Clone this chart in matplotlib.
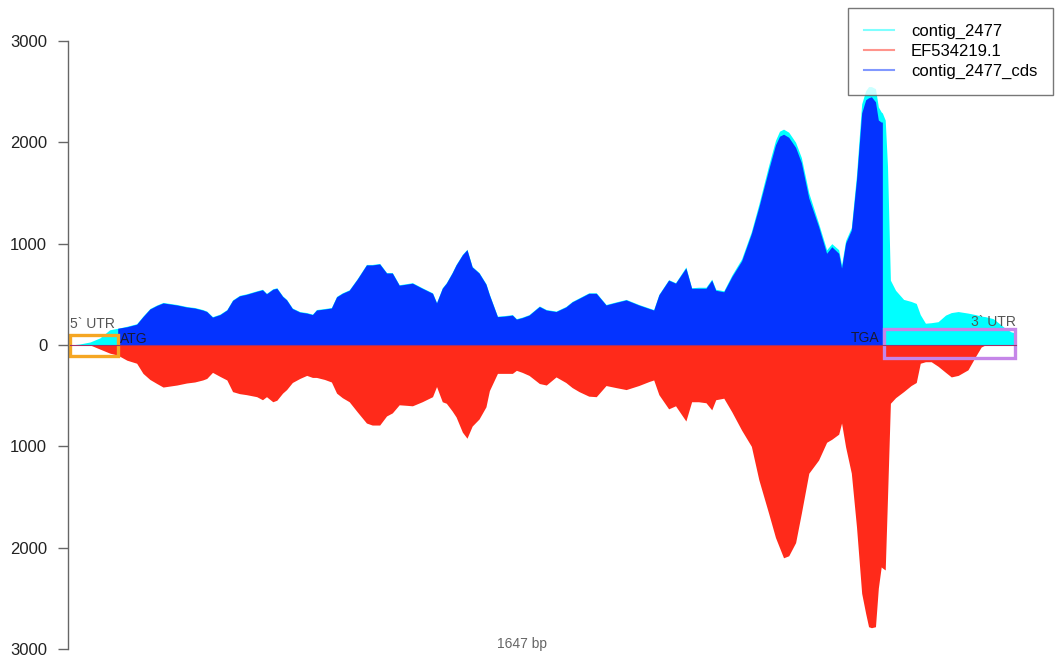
import numpy as np
import matplotlib
matplotlib.use("Agg")
import matplotlib.pyplot as plt
from matplotlib.lines import Line2D
from matplotlib.patches import Rectangle

plt.rcParams['font.family'] = ['Liberation Sans', 'DejaVu Sans']

nan = np.nan

# coverage profiles (bp position, read depth)
pos = [1, 18, 36, 53, 70, 84, 100, 117, 128, 140, 152, 163, 175, 187, 204, 218,
       232, 239, 249, 262, 274, 284, 296, 308, 326, 336, 343, 354, 361, 371, 378,
       388, 401, 413, 423, 430, 444, 456, 465, 475, 487, 501, 517, 527, 540, 552,
       562, 574, 586, 597, 614, 632, 639, 649, 656, 666, 673, 684, 692, 701, 713,
       725, 731, 745, 757, 771, 778, 788, 800, 818, 830, 847, 864, 875, 887, 904,
       917, 934, 951, 969, 991, 1009, 1017, 1026, 1043, 1055, 1073, 1083, 1095,
       1108, 1118, 1125, 1139, 1153, 1170, 1187, 1200, 1217, 1229, 1236, 1243,
       1252, 1264, 1274, 1287, 1304, 1318, 1327, 1339, 1344, 1351, 1361, 1370,
       1379, 1386, 1391, 1396, 1403, 1408, 1413, 1415, 1420, 1424, 1429, 1438,
       1452, 1465, 1474, 1481, 1490, 1500, 1512, 1525, 1535, 1547, 1564, 1577,
       1587, 1594, 1608, 1629, 1639, 1646, 1647]

contig = [0, 10, 30, 70, 150, 165, 185, 210, 285, 360, 395, 420, 410, 400, 380, 370,
          350, 335, 280, 305, 350, 445, 490, 505, 535, 550, 510, 555, 565, 485, 450,
          365, 330, 320, 305, 350, 360, 370, 480, 515, 545, 655, 795, 795, 805, 715,
          715, 595, 605, 615, 565, 515, 420, 565, 615, 715, 795, 895, 945, 775, 715,
          605, 500, 285, 290, 300, 260, 275, 300, 385, 350, 335, 380, 430, 465, 515,
          515, 400, 425, 450, 400, 365, 350, 500, 645, 615, 770, 565, 570,
          570, 650, 550, 535, 690, 850, 1120, 1390, 1770, 2020, 2110, 2130,
          2100, 2000, 1850, 1500, 1200, 940, 1000, 940, 790, 1030, 1160, 1680,
          2380, 2510, 2550, 2550, 2530, 2350, 2300, 2290, 2220, 1760, 640, 540,
          450, 430, 410, 300, 215, 220, 230, 295, 320, 330, 315, 300,
          285, 280, 260, 165, 130, 120, 0]

cds = [nan, nan, nan, nan, nan, 165, 180, 205, 280, 355, 390, 415, 405, 395, 375, 365,
       345, 330, 275, 300, 345, 440, 485, 500, 530, 545, 505, 550, 560, 480, 445,
       360, 325, 315, 300, 345, 355, 365, 475, 510, 540, 650, 790, 790, 800, 710,
       710, 590, 600, 610, 560, 510, 415, 560, 610, 710, 790, 890, 940, 770, 710,
       600, 495, 280, 285, 295, 255, 270, 295, 380, 345, 330, 375, 425, 460, 510,
       510, 395, 420, 445, 395, 360, 345, 495, 640, 610, 760, 560, 560,
       560, 640, 540, 525, 675, 830, 1100, 1360, 1730, 1975, 2060, 2080,
       2050, 1950, 1800, 1450, 1170, 905, 970, 905, 760, 1005, 1135, 1630,
       2290, 2420, 2440, 2450, 2400, 2220, 2200, 2200, nan, nan, nan, nan,
       nan, nan, nan, nan, nan, nan, nan, nan, nan, nan, nan, nan,
       nan, nan, nan, nan, nan, nan, nan]

ref = [0, 0, 0, 40, 80, 100, 150, 180, 280, 340, 380, 415, 405, 395, 375, 365,
       345, 330, 270, 310, 345, 460, 480, 490, 510, 540, 510, 560, 545, 475, 440,
       370, 330, 300, 320, 320, 340, 365, 475, 520, 560, 660, 770, 790, 790, 700,
       670, 590, 595, 600, 560, 510, 410, 560, 575, 650, 710, 860, 920, 800, 730,
       610, 450, 280, 280, 280, 250, 270, 300, 380, 395, 315, 370, 420, 460, 505,
       510, 400, 420, 440, 400, 360, 345, 490, 630, 600, 750, 560, 560,
       570, 640, 540, 525, 660, 840, 1000, 1330, 1660, 1900, 2000, 2100,
       2080, 1950, 1660, 1265, 1135, 960, 930, 880, 770, 1005, 1265, 1795,
       2450, 2650, 2780, 2790, 2780, 2400, 2190, 2200, 2220, 1500, 575, 520,
       460, 400, 370, 180, 165, 165, 210, 270, 315, 300, 245, 115,
       20, 0, 0, 0, 0, 0, 0]

names = ["contig_2477", "EF534219.1", "contig_2477_cds"]
colors = ["#00ffff", "#ff2a1a", "#0433ff"]

seq_len = 1647
atg = 84
tga = 1415

pos = np.array(pos)
contig = np.array(contig, dtype=float)
cds = np.array(cds, dtype=float)
ref = np.array(ref, dtype=float)

fig = plt.figure(figsize=(10.56, 6.6), dpi=100)
ax = fig.add_axes([68/1056, 11/660, 962/1056, 608/660])

ax.fill_between(pos, 0, contig, color=colors[0], linewidth=0)
ax.fill_between(pos, 0, cds, color=colors[2], linewidth=0)
ax.fill_between(pos, 0, -ref, color=colors[1], linewidth=0)
ax.plot([1, seq_len], [0, 0], color="#a0306a", linewidth=0.8)

# UTR boxes
ax.add_patch(Rectangle((1, -110), atg - 1, 210, fill=False,
                       edgecolor="#f5a623", linewidth=2.4))
ax.add_patch(Rectangle((tga + 2, -130), seq_len - 1 - tga - 2, 290, fill=False,
                       edgecolor="#c586e8", linewidth=2.4))

ax.text(1, 165, "5` UTR", fontsize=10, color="#555555", ha="left", va="baseline")
ax.text(atg + 4, 20, "ATG", fontsize=10, color="#1a1a33", ha="left", va="baseline")
ax.text(tga - 5, 30, "TGA", fontsize=10, color="#1a1a33", ha="right", va="baseline")
ax.text(seq_len + 1, 190, "3` UTR", fontsize=10, color="#555555", ha="right", va="baseline")
ax.text(788, -2950, f"{seq_len} bp", fontsize=10, color="#666666", ha="center",
        va="center", clip_on=False)

ax.set_xlim(-2.5, 1672)
ax.set_ylim(-3000, 3000)
ax.set_yticks([-3000, -2000, -1000, 0, 1000, 2000, 3000])
ax.set_yticklabels([str(abs(v)) for v in [-3000, -2000, -1000, 0, 1000, 2000, 3000]])
ax.set_xticks([])
for s in ["top", "right", "bottom"]:
    ax.spines[s].set_visible(False)
ax.spines["left"].set_color("#666666")
ax.spines["left"].set_linewidth(1)
ax.tick_params(axis="y", length=7, width=1, color="#666666", pad=8,
               labelsize=12, labelcolor="#222222")

handles = [Line2D([], [], color=c, alpha=0.5, linewidth=1.5) for c in colors]
fig.legend(handles, names, loc="upper right",
           bbox_to_anchor=(1053/1056, 1 - 8/660), fontsize=12, frameon=True,
           fancybox=False, edgecolor="#555555", borderpad=0.95, labelspacing=0.3,
           handlelength=1.8, handletextpad=1.0, borderaxespad=0)

fig.savefig("out.png", dpi=100, facecolor="white")
